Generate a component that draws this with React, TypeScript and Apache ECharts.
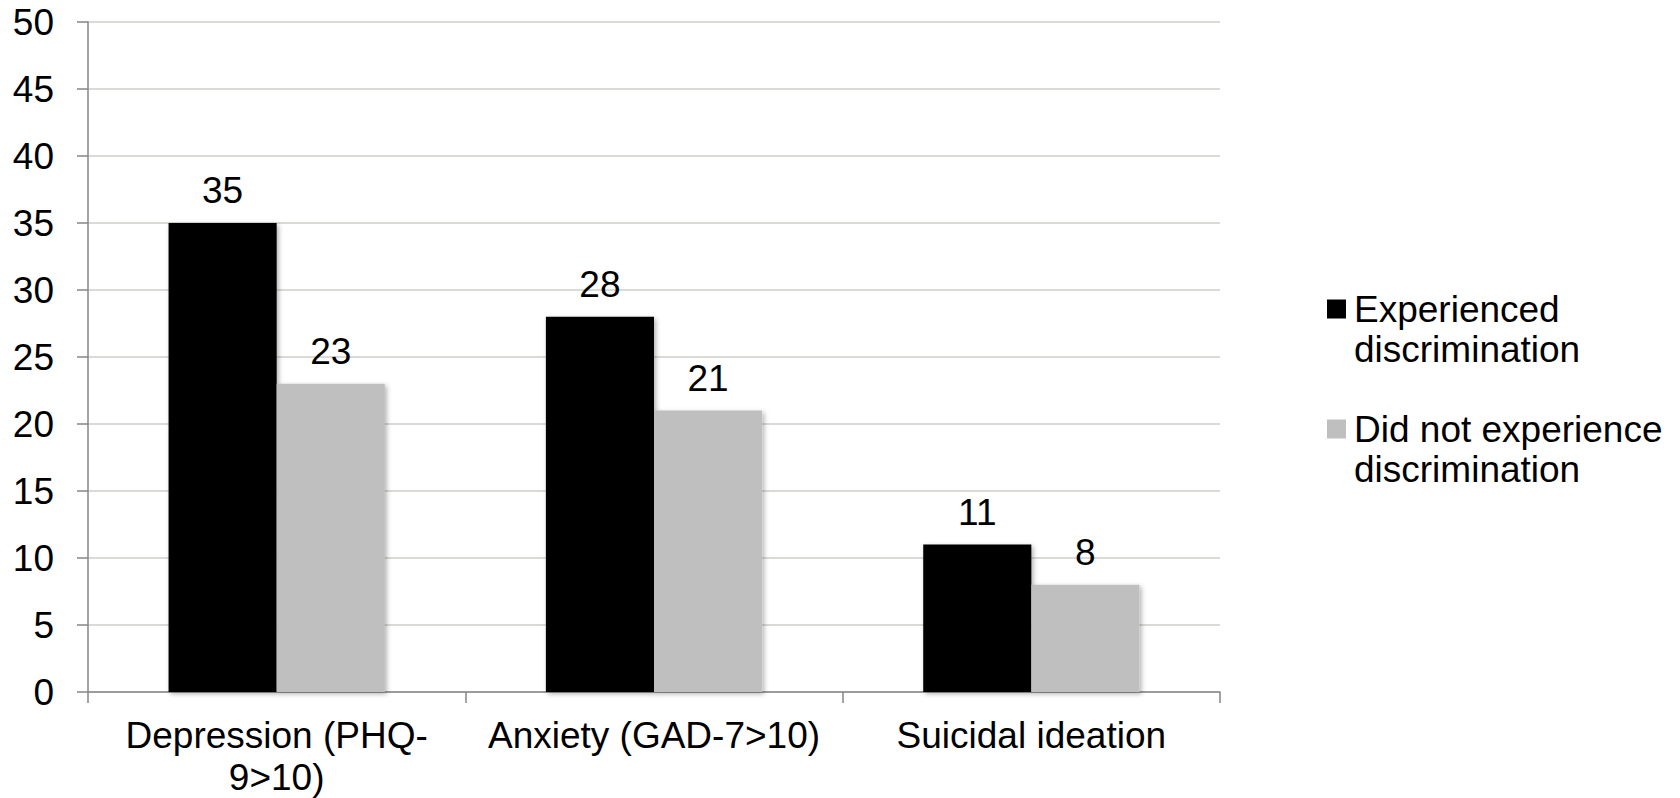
import React, { useEffect, useRef } from "react";
import * as echarts from "echarts";

const categories = ["Depression (PHQ-\n9>10)", "Anxiety (GAD-7>10)", "Suicidal ideation"];
const seriesNames = ["Experienced discrimination", "Did not experience discrimination"];
const experienced = [35, 28, 11];
const notExperienced = [23, 21, 8];
const yTicks = { min: 0, max: 50, interval: 5 };

const FONT = "'Liberation Sans', Arial, sans-serif";
const FS = 37;

export default function App() {
  const ref = useRef<HTMLDivElement>(null);
  useEffect(() => {
    if (!ref.current) return;
    const chart = echarts.init(ref.current, null, { renderer: "svg" });
    const barShadow = {
      shadowBlur: 5,
      shadowColor: "rgba(0,0,0,0.3)",
      shadowOffsetX: 2,
      shadowOffsetY: 2,
    };
    const label = {
      show: true,
      position: "top",
      distance: 14,
      color: "#000",
      fontSize: FS,
      fontFamily: FONT,
    };
    chart.setOption({
      animation: false,
      backgroundColor: "#ffffff",
      textStyle: { fontFamily: FONT },
      grid: { left: 88, right: 460, top: 22, bottom: 106, containLabel: false },
      legend: {
        orient: "vertical",
        left: 1322,
        top: 289,
        padding: 0,
        itemGap: 40,
        itemWidth: 0,
        itemHeight: 0,
        icon: "rect",
        selectedMode: false,
        data: seriesNames,
        formatter: (name: string) => {
          const idx = seriesNames.indexOf(name);
          const words = name.split(" ");
          const first = idx === 0 ? words[0] : words.slice(0, 3).join(" ");
          const second = words[words.length - 1];
          return `{s${idx}|}{g|}${first}\n{ind|}${second}`;
        },
        textStyle: {
          fontSize: FS,
          lineHeight: 40,
          color: "#000",
          fontFamily: FONT,
          rich: {
            s0: { width: 19, height: 19, backgroundColor: "#000000" },
            s1: { width: 19, height: 19, backgroundColor: "#bfbfbf" },
            g: { width: 8 },
            ind: { width: 27 },
          },
        },
      },
      xAxis: {
        type: "category",
        data: categories,
        boundaryGap: true,
        axisLine: { show: true, lineStyle: { color: "#868686", width: 1.5 } },
        axisTick: { show: true, length: 11, lineStyle: { color: "#868686", width: 1.5 } },
        axisLabel: {
          color: "#000",
          fontSize: FS,
          lineHeight: 42,
          margin: 22,
          fontFamily: FONT,
          interval: 0,
        },
        splitLine: { show: false },
      },
      yAxis: {
        type: "value",
        min: yTicks.min,
        max: yTicks.max,
        interval: yTicks.interval,
        axisLine: { show: true, lineStyle: { color: "#868686", width: 1.5 } },
        axisTick: { show: true, length: 11, lineStyle: { color: "#868686", width: 1.5 } },
        axisLabel: { color: "#000", fontSize: FS, margin: 34, fontFamily: FONT },
        splitLine: { show: true, lineStyle: { color: "#d0cec8", width: 1.5 } },
      },
      series: [
        {
          name: seriesNames[0],
          type: "bar",
          data: experienced,
          barGap: "0%",
          barCategoryGap: "42.7%",
          itemStyle: { color: "#000000", ...barShadow },
          label,
        },
        {
          name: seriesNames[1],
          type: "bar",
          data: notExperienced,
          barGap: "0%",
          barCategoryGap: "42.7%",
          itemStyle: { color: "#bfbfbf", ...barShadow },
          label,
        },
      ],
    });
    return () => chart.dispose();
  }, []);
  return (
    <div
      ref={ref}
      style={{ position: "absolute", left: 0, top: 0, width: 1680, height: 798 }}
    />
  );
}
